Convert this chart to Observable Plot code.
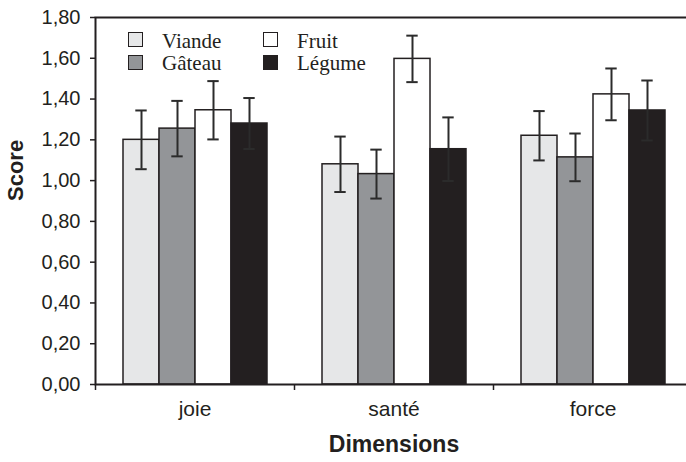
<!DOCTYPE html>
<html>
<head>
<meta charset="utf-8">
<script src="https://cdn.jsdelivr.net/npm/d3@7"></script>
<script src="https://cdn.jsdelivr.net/npm/@observablehq/plot@0.6"></script>
<style>
  html, body { margin: 0; padding: 0; background: #fff; overflow: hidden; }
  #wrap { position: relative; width: 686px; height: 462px; overflow: hidden; }
  .legend-item { position: absolute; display: flex; align-items: center; height: 15px;
    font-family: "Liberation Serif", "Times New Roman", serif; font-size: 21px; color: #231f20; }
  .legend-item .sw { width: 15px; height: 15px; box-sizing: border-box; border: 1.5px solid #231f20; flex: none; }
  .legend-item span { margin-left: 19px; line-height: 15px; position: relative; top: 1.5px; white-space: nowrap; }
</style>
</head>
<body>
<div id="wrap"></div>
<script>
const categories = ["joie", "santé", "force"];
const series = ["Viande", "Gâteau", "Fruit", "Légume"];
const seriesColors = ["#e6e7e8", "#939598", "#ffffff", "#231f20"];

// mean scores per category (joie, santé, force)
const viande = [1.20, 1.08, 1.22];
const gateau = [1.255, 1.032, 1.114];
const fruit  = [1.345, 1.597, 1.423];
const legume = [1.28, 1.154, 1.344];

// error bar half-widths
const viandeErr = [0.144, 0.136, 0.121];
const gateauErr = [0.136, 0.12, 0.117];
const fruitErr  = [0.143, 0.114, 0.127];
const legumeErr = [0.125, 0.156, 0.147];

const yTicks = [0, 0.2, 0.4, 0.6, 0.8, 1.0, 1.2, 1.4, 1.6, 1.8];
const yTickLabels = ["0,00", "0,20", "0,40", "0,60", "0,80", "1,00", "1,20", "1,40", "1,60", "1,80"];

const values = [viande, gateau, fruit, legume];
const errs = [viandeErr, gateauErr, fruitErr, legumeErr];
const rows = [];
categories.forEach((c, ci) => {
  series.forEach((s, si) => {
    const v = values[si][ci], e = errs[si][ci];
    rows.push({cat: c, series: s, value: v, lo: v - e, hi: v + e});
  });
});

const W = 692, ML = 95;
const bandW = (W - ML) / categories.length;
const ink = "#231f20";
const errInk = "#2b2b2b";

const chart = Plot.plot({
  width: W,
  height: 462,
  marginTop: 17,
  marginBottom: 78,
  marginLeft: ML,
  marginRight: 0,
  style: {fontFamily: "'Liberation Sans', Arial, sans-serif", maxWidth: "none", overflow: "visible", background: "#fff", color: ink},
  fx: {domain: categories, paddingInner: 0, paddingOuter: 0, axis: null, label: null},
  x: {domain: series, paddingInner: 0, paddingOuter: 0.74, axis: null, label: null},
  y: {domain: [0, 1.8], axis: null, label: null},
  color: {domain: series, range: seriesColors},
  marks: [
    Plot.barY(rows, {fx: "cat", x: "series", y: "value", fill: "series", stroke: ink, strokeWidth: 1.5, inset: 0}),
    Plot.ruleX(rows, {fx: "cat", x: "series", y1: "lo", y2: "hi", stroke: errInk, strokeWidth: 2}),
    Plot.tickY(rows, {fx: "cat", x: "series", y: "hi", stroke: errInk, strokeWidth: 2, insetLeft: 12.3, insetRight: 12.3}),
    Plot.tickY(rows, {fx: "cat", x: "series", y: "lo", stroke: errInk, strokeWidth: 2, insetLeft: 12.3, insetRight: 12.3}),
    Plot.axisY({ticks: yTicks, tickFormat: d => yTickLabels[yTicks.findIndex(t => Math.abs(t - d) < 1e-9)],
      tickSize: 5, tickPadding: 10, fontSize: 20, label: null, stroke: ink, strokeWidth: 1.5, fill: ink}),
    Plot.axisFx({anchor: "bottom", tickSize: 0, tickPadding: 17, fontSize: 21, label: null, fill: ink}),
    Plot.axisFx({anchor: "bottom", tickSize: 6, tickFormat: () => "", label: null, dx: -bandW / 2, stroke: ink, strokeWidth: 1.5}),
    Plot.frame({facet: "super", stroke: ink, strokeWidth: 2}),
    Plot.text(["Score"], {facet: "super", frameAnchor: "left", rotate: -90, dx: -79.5, fontSize: 22, fontWeight: "bold", fill: ink}),
    Plot.text(["Dimensions"], {facet: "super", frameAnchor: "bottom", dy: 67, fontSize: 23, fontWeight: "bold", fill: ink})
  ]
});

const wrap = document.getElementById("wrap");
wrap.appendChild(chart);

series.forEach((s, i) => {
  const col = Math.floor(i / 2), row = i % 2;
  const item = document.createElement("div");
  item.className = "legend-item";
  item.style.left = (128 + col * 135) + "px";
  item.style.top = (32 + row * 22.5) + "px";
  const sw = document.createElement("div");
  sw.className = "sw";
  sw.style.background = seriesColors[i];
  const label = document.createElement("span");
  label.textContent = s;
  item.appendChild(sw);
  item.appendChild(label);
  wrap.appendChild(item);
});
</script>
</body>
</html>
